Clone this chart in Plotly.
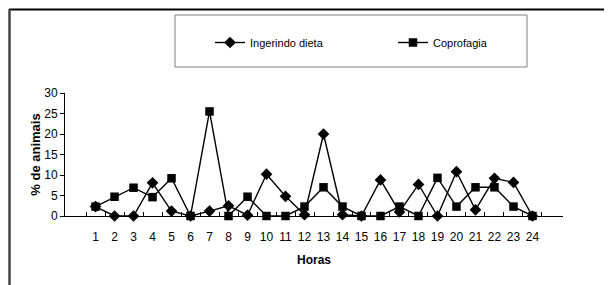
import plotly.graph_objects as go

horas = [str(h) for h in range(1, 25)]
ingerindo = [2.3, 0, 0, 8.1, 1.2, 0, 1.2, 2.5, 0.2, 10.2, 4.8, 0.3, 20.0, 0.3, 0, 8.8, 1.0, 7.7, 0, 10.8, 1.5, 9.2, 8.2, 0]
coprofagia = [2.3, 4.7, 6.9, 4.6, 9.2, 0, 25.5, 0, 4.7, 0, 0, 2.3, 7.0, 2.3, 0, 0, 2.3, 0, 9.3, 2.3, 7.0, 7.0, 2.3, 0]
y_ticks = [0, 5, 10, 15, 20, 25, 30]

FONT = "Liberation Sans, Arial, sans-serif"

# page has an 8px body margin; figure occupies page px 8..612 x 8..285
OFF = 8
W, H = 604, 277
# plot area in page coordinates
PL, PR, PT, PB = 65, 563, 93, 216
L = PL - OFF
R = W - (PR - OFF)
T = PT - OFF
B = H - (PB - OFF)
pw, ph = PR - PL, PB - PT

def px(xp):  # page x -> paper
    return (xp - PL) / pw

def py(yp):  # page y -> paper
    return (PB - yp) / ph

fig = go.Figure()
fig.add_trace(go.Scatter(
    x=horas, y=ingerindo, mode="lines+markers", name="Ingerindo dieta",
    line=dict(color="black", width=1.4),
    marker=dict(symbol="diamond", size=9, color="black"),
    cliponaxis=False,
))
fig.add_trace(go.Scatter(
    x=horas, y=coprofagia, mode="lines+markers", name="Coprofagia",
    line=dict(color="black", width=1.4),
    marker=dict(symbol="square", size=8.5, color="black"),
    cliponaxis=False,
))

shapes = [
    dict(type="line", xref="paper", yref="paper", x0=px(9), x1=px(612), y0=py(9.5), y1=py(9.5),
         line=dict(color="black", width=2)),
    dict(type="line", xref="paper", yref="paper", x0=px(9.5), x1=px(9.5), y0=py(9), y1=py(285),
         line=dict(color="#444444", width=2.5)),
    dict(type="rect", xref="paper", yref="paper", x0=px(175), x1=px(527), y0=py(15), y1=py(67),
         line=dict(color="#808080", width=1), fillcolor="rgba(0,0,0,0)"),
]

fig.update_layout(
    width=W, height=H,
    margin=dict(l=L, r=R, t=T, b=B, pad=0),
    paper_bgcolor="white", plot_bgcolor="white",
    font=dict(family=FONT, color="black", size=12),
    shapes=shapes,
    showlegend=True,
    legend=dict(
        orientation="h", x=px(210), y=py(28), xanchor="left", yanchor="top",
        bgcolor="rgba(0,0,0,0)", borderwidth=0,
        font=dict(family=FONT, size=11, color="black"),
        entrywidth=138, entrywidthmode="pixels",
        itemwidth=30,
    ),
    xaxis=dict(
        type="category", tickson="boundaries", ticks="inside", ticklen=4,
        tickcolor="black", showline=True, linecolor="black", linewidth=1,
        showgrid=False, zeroline=False, tickangle=0, ticklabelstandoff=10,
        tickfont=dict(family=FONT, size=12),
        title=dict(text="<b>Horas</b>", font=dict(family=FONT, size=12), standoff=12),
    ),
    yaxis=dict(
        range=[0, 30], tickvals=y_ticks, ticks="outside", ticklen=4,
        tickcolor="black", showline=True, linecolor="black", linewidth=1,
        showgrid=False, zeroline=False,
        tickfont=dict(family=FONT, size=12),
        title=dict(text="<b>% de animais</b>", font=dict(family=FONT, size=13), standoff=0),
    ),
)

fig.write_html("out.html")
